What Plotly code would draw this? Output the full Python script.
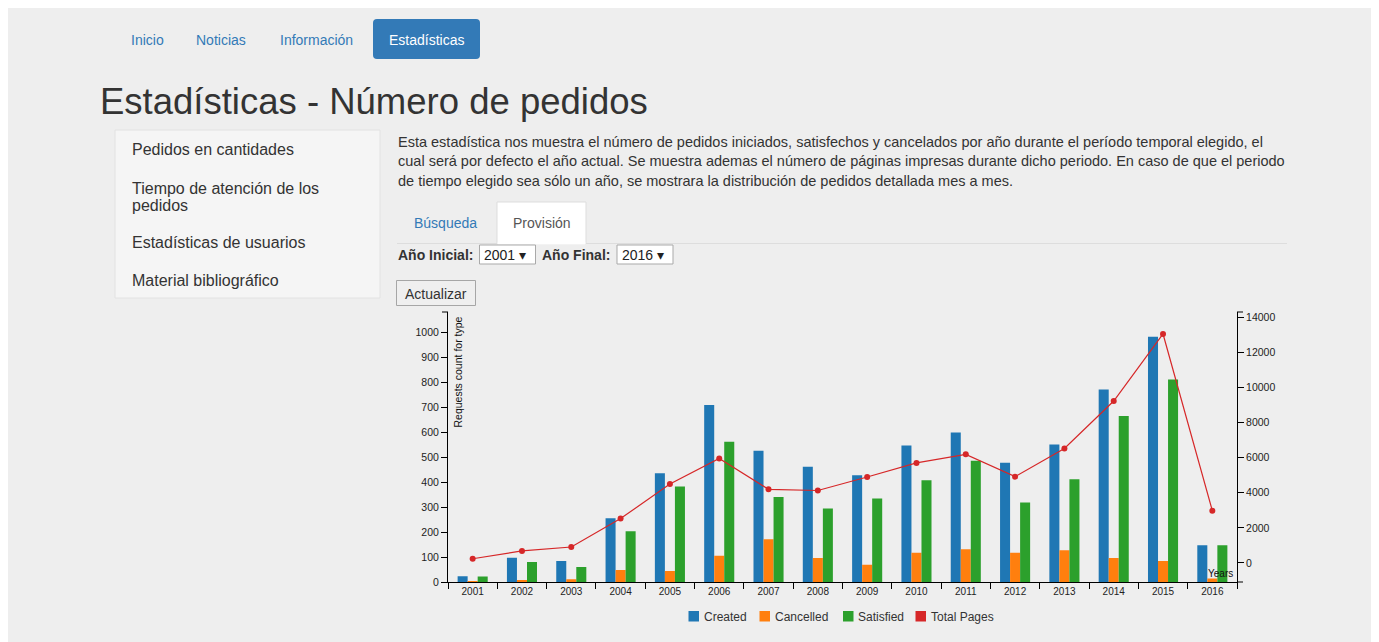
import plotly.graph_objects as go

# ---------------- data ----------------
years = ['2001', '2002', '2003', '2004', '2005', '2006', '2007', '2008',
         '2009', '2010', '2011', '2012', '2013', '2014', '2015', '2016']
created = [23, 97, 84, 255, 435, 708, 525, 461, 427, 546, 598, 477, 550, 770, 981, 147]
cancelled = [2, 7, 11, 48, 44, 105, 171, 96, 69, 117, 131, 117, 127, 96, 84, 14]
satisfied = [22, 80, 60, 203, 382, 561, 340, 294, 334, 407, 485, 318, 411, 664, 810, 147]
total_pages = [240, 690, 910, 2530, 4500, 5960, 4200, 4130, 4900, 5700, 6190, 4920,
               6530, 9230, 13050, 2980]
series_names = ['Created', 'Cancelled', 'Satisfied', 'Total Pages']
series_colors = ['#1f77b4', '#ff7f0e', '#2ca02c', '#d62728']

nav_items = ['Inicio', 'Noticias', 'Información']
side_items = ['Pedidos en cantidades', 'Tiempo de atención de los', 'pedidos',
              'Estadísticas de usuarios', 'Material bibliográfico']
paragraph = [
    'Esta estadística nos muestra el número de pedidos iniciados, satisfechos y cancelados por año durante el período temporal elegido, el',
    'cual será por defecto el año actual. Se muestra ademas el número de páginas impresas durante dicho periodo. En caso de que el periodo',
    'de tiempo elegido sea sólo un año, se mostrara la distribución de pedidos detallada mes a mes.',
]

# ---------------- geometry helpers (page pixel -> paper) ----------------
PW, PH = 1379, 642          # page (window) size
OX, OY = 8, 8               # default page body margin
FW, FH = PW - OX, PH - OY   # figure size
L, R, T, B = 448, 1237, 312, 582   # plot area in page pixels
W, H = R - L, B - T


def px(x):
    return (x - L) / W


def py(y):
    return (B - y) / H


FONT = 'Liberation Sans, Arial, sans-serif'
TXT = '#333333'
LINK = '#337ab7'

fig = go.Figure()
for name, vals, col in zip(series_names[:3], [created, cancelled, satisfied], series_colors[:3]):
    fig.add_trace(go.Bar(x=years, y=vals, name=name, marker=dict(color=col, line=dict(width=0)),
                         yaxis='y', showlegend=False))
fig.add_trace(go.Scatter(x=years, y=total_pages, name=series_names[3], yaxis='y2',
                         mode='lines+markers', line=dict(color=series_colors[3], width=1.2),
                         marker=dict(color=series_colors[3], size=6), showlegend=False))

shapes = []
ann = []


def rect(x0, y0, x1, y1, fill, line=None, lw=1, layer='below'):
    shapes.append(dict(type='rect', xref='paper', yref='paper', x0=px(x0), x1=px(x1),
                       y0=py(y1), y1=py(y0), fillcolor=fill, layer=layer,
                       line=dict(color=line or fill, width=lw if line else 0)))


def hline(x0, x1, y, color, lw=1, layer='below'):
    shapes.append(dict(type='line', xref='paper', yref='paper', x0=px(x0), x1=px(x1),
                       y0=py(y), y1=py(y), line=dict(color=color, width=lw), layer=layer))


def text(x, y, s, size=14, color=TXT, xanchor='left', bold=False, angle=0, family=FONT):
    if bold:
        s = '<b>' + s + '</b>'
    if xanchor == 'left':
        x -= 1.5
    ann.append(dict(xref='paper', yref='paper', x=px(x), y=py(y), text=s, showarrow=False,
                    xanchor=xanchor, yanchor='middle', textangle=angle,
                    font=dict(family=family, size=size, color=color), align='left'))


# nav
for s, x in zip(nav_items, [130, 196, 279]):
    text(x, 40, s, 14, LINK)
# active nav button (rounded)
x0, x1, y0, y1, r = 373, 480, 19, 59, 4
path = (f'M {px(x0 + r)},{py(y0)} L {px(x1 - r)},{py(y0)} Q {px(x1)},{py(y0)} {px(x1)},{py(y0 + r)} '
        f'L {px(x1)},{py(y1 - r)} Q {px(x1)},{py(y1)} {px(x1 - r)},{py(y1)} '
        f'L {px(x0 + r)},{py(y1)} Q {px(x0)},{py(y1)} {px(x0)},{py(y1 - r)} '
        f'L {px(x0)},{py(y0 + r)} Q {px(x0)},{py(y0)} {px(x0 + r)},{py(y0)} Z')
shapes.append(dict(type='path', xref='paper', yref='paper', path=path, fillcolor='#337ab7',
                   line=dict(width=0), layer='below'))
text(426.5, 40, 'Estadísticas', 14, 'white', xanchor='center')

# title
text(99, 101, 'Estadísticas - Número de pedidos', 36.5, TXT)

# side panel
rect(115, 130, 380, 298, '#f5f5f5', '#e2e2e2')
for s, y in zip(side_items, [150, 188, 205, 242.5, 280]):
    text(131, y, s, 16)

# paragraph
for i, line in enumerate(paragraph):
    text(397, 141.5 + 19.5 * i, line, 14.5)

# tabs
hline(397, 497, 243.5, '#dddddd')
hline(586, 1287, 243.5, '#dddddd')
rect(497, 202, 586, 244, '#ffffff', '#dddddd')
hline(497.5, 585.5, 243.5, '#ffffff', 2)
text(413, 223, 'Búsqueda', 14, LINK)
text(512.5, 223, 'Provisión', 14, '#555555')

# selects
text(397, 254.5, 'Año Inicial:', 14, TXT, bold=True)
rect(479.5, 245, 535.5, 264, '#ffffff', '#a9a9a9')
text(483.5, 254.5, '2001 ▾', 14, '#222222')
text(541, 254.5, 'Año Final:', 14, TXT, bold=True)
rect(617, 245, 673, 264, '#ffffff', '#a9a9a9')
text(621.5, 254.5, '2016 ▾', 14, '#222222')

# update button
rect(396.5, 280.5, 475.5, 305.5, '#efefef', '#a6a6a6')
text(436, 293.5, 'Actualizar', 14, TXT, xanchor='center')

# d3-like outer ticks
shapes.append(dict(type='line', xref='paper', yref='paper', x0=px(442), x1=0, y0=1, y1=1,
                   line=dict(color='black', width=1)))
shapes.append(dict(type='line', xref='paper', yref='paper', x0=1, x1=px(1243), y0=1, y1=1,
                   line=dict(color='black', width=1)))
shapes.append(dict(type='line', xref='paper', yref='paper', x0=1, x1=px(1243), y0=0, y1=0,
                   line=dict(color='black', width=1)))

# axis titles
text(457, 372.5, 'Requests count for type', 10.5, '#111111', xanchor='center', angle=-90)
text(1207, 573.5, 'Years', 10, '#111111')

# custom legend
leg = [(688.5, 703.5), (759.5, 774), (843, 857), (915.5, 930.5)]
for (sx, tx), name, col in zip(leg, series_names, series_colors):
    rect(sx, 611, sx + 10.5, 621.5, col, layer='above')
    text(tx, 616.5, name, 12, TXT)

fig.update_layout(
    width=FW, height=FH,
    margin=dict(l=L - OX, r=PW - R, t=T - OY, b=PH - B, pad=0, autoexpand=False),
    paper_bgcolor='#eeeeee', plot_bgcolor='rgba(0,0,0,0)',
    barmode='group', bargap=0.39, bargroupgap=0,
    showlegend=False,
    font=dict(family=FONT, size=10, color='#222222'),
    xaxis=dict(type='category', range=[-0.5, 15.5], showline=True, linecolor='black',
               linewidth=1, ticks='outside', tickson='boundaries', ticklen=6, tickcolor='black',
               showgrid=False, zeroline=False, automargin=False,
               tickfont=dict(size=10, color='#222222')),
    yaxis=dict(range=[0, 1080], dtick=100, showline=True, linecolor='black', linewidth=1,
               ticks='outside', ticklen=6, tickcolor='black', showgrid=False, zeroline=False,
               automargin=False, tickformat='d', tickfont=dict(size=10.5, color='#222222')),
    yaxis2=dict(range=[-1083, 14302], dtick=2000, overlaying='y', side='right', showline=True,
                linecolor='black', linewidth=1, ticks='outside', ticklen=6, tickcolor='black',
                showgrid=False, zeroline=False, automargin=False, tickformat='d',
                tickfont=dict(size=10.5, color='#222222')),
    shapes=shapes, annotations=ann,
)

fig.write_html('out.html')
